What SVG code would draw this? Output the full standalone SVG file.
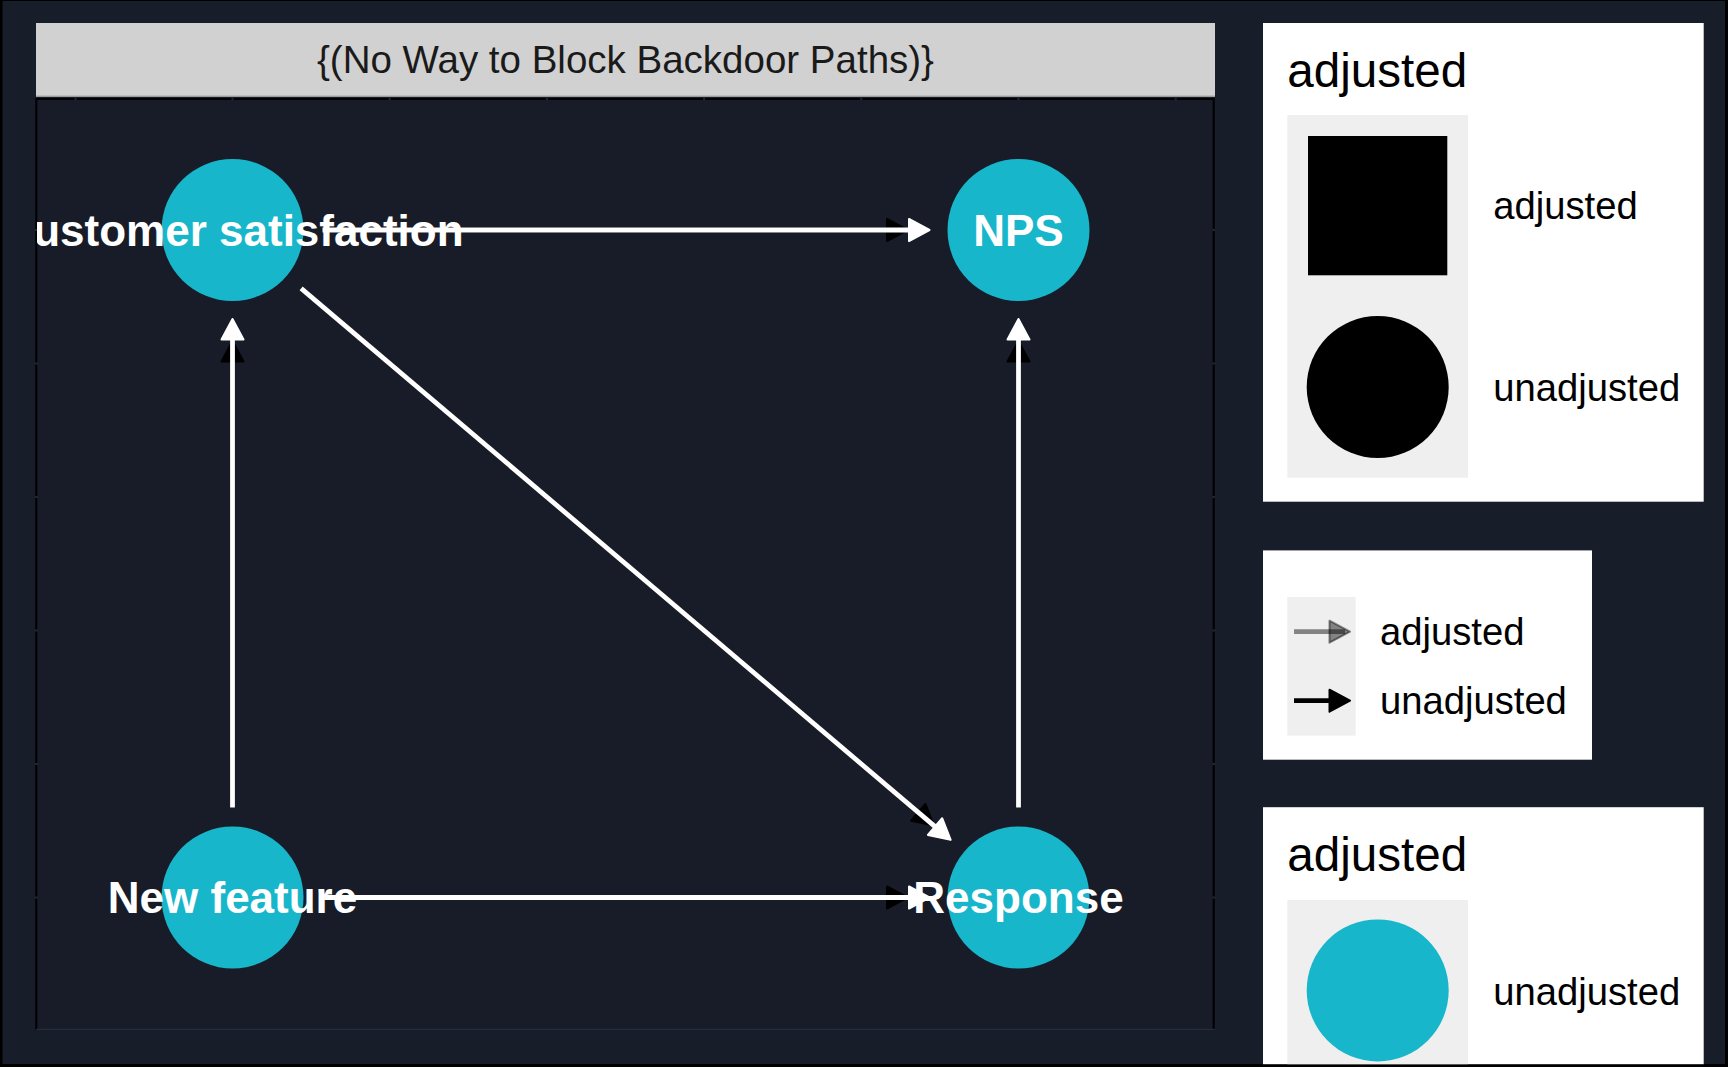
<svg xmlns="http://www.w3.org/2000/svg" width="1728" height="1067" viewBox="0 0 1728 1067">
  <style>
    .lbl { font-family: "Liberation Sans", Arial, sans-serif; font-weight: bold; font-size: 44px; fill: #ffffff; text-anchor: middle; }
    .node { fill: #17b6ca; }
    .edge-w { stroke: #ffffff; stroke-width: 4.8; fill: none; marker-end: url(#ah-w); }
    .edge-b { stroke: #000000; stroke-width: 4.8; fill: none; marker-end: url(#ah-b); }
    .strip { font-family: "Liberation Sans", Arial, sans-serif; font-size: 38.5px; fill: #1a1a1a; text-anchor: middle; }
    .ltitle { font-family: "Liberation Sans", Arial, sans-serif; font-size: 47.6px; fill: #000000; }
    .ltext { font-family: "Liberation Sans", Arial, sans-serif; font-size: 38.2px; fill: #000000; }
    .keybg { fill: #efefef; }
    .tick { fill: #1f2536; }
  </style>
  <defs>
    <marker id="ah-w" markerUnits="userSpaceOnUse" viewBox="0 0 30 30" markerWidth="30" markerHeight="30" refX="19.5" refY="15" orient="auto" overflow="visible">
      <path d="M4,4 L24.5,15 L4,26 Z" fill="#ffffff" stroke="#ffffff" stroke-width="2" stroke-linejoin="round"/>
    </marker>
    <marker id="ah-b" markerUnits="userSpaceOnUse" viewBox="0 0 30 30" markerWidth="30" markerHeight="30" refX="19.5" refY="15" orient="auto" overflow="visible">
      <path d="M4,4 L24.5,15 L4,26 Z" fill="#000000" stroke="#000000" stroke-width="2" stroke-linejoin="round"/>
    </marker>
    <marker id="ah-g" markerUnits="userSpaceOnUse" viewBox="0 0 30 30" markerWidth="30" markerHeight="30" refX="19.5" refY="15" orient="auto" overflow="visible">
      <path d="M4,4 L24.5,15 L4,26 Z" fill="#000000" fill-opacity="0.45" stroke="#000000" stroke-opacity="0.45" stroke-width="2" stroke-linejoin="round"/>
    </marker>
    <clipPath id="panel-clip">
      <rect x="37" y="99" width="1177" height="930"/>
    </clipPath>
  </defs>

  <!-- background -->
  <rect x="0" y="0" width="1728" height="1067" fill="#000000"/>
  <rect x="2.5" y="1" width="1722.5" height="1063" fill="#181d2a"/>

  <!-- panel -->
  <g id="panel">
    <rect x="36" y="97" width="1179" height="932" fill="#171c28"/>
    <rect x="36" y="23" width="1179" height="73.5" fill="#d1d1d1"/>
    <line x1="36" y1="96.2" x2="1215" y2="96.2" stroke="#a9a9a9" stroke-width="1.2"/>
    <text class="strip" x="625.5" y="73.3">{(No Way to Block Backdoor Paths)}</text>
    <line x1="36.3" y1="98" x2="36.3" y2="1030" stroke="#000000" stroke-width="2"/>
    <line x1="36" y1="99" x2="1215" y2="99" stroke="#000000" stroke-width="2"/>
    <line x1="1213.7" y1="98" x2="1213.7" y2="1030" stroke="#000000" stroke-width="2"/>
    <line x1="36" y1="1029.3" x2="1215" y2="1029.3" stroke="#2b3142" stroke-width="1"/>
    <g id="grid-ticks">
      <rect class="tick" x="74.5" y="97.5" width="2" height="3"/>
      <rect class="tick" x="231.5" y="97.5" width="2" height="3"/>
      <rect class="tick" x="388.7" y="97.5" width="2" height="3"/>
      <rect class="tick" x="545.9" y="97.5" width="2" height="3"/>
      <rect class="tick" x="703.1" y="97.5" width="2" height="3"/>
      <rect class="tick" x="860.3" y="97.5" width="2" height="3"/>
      <rect class="tick" x="1017.5" y="97.5" width="2" height="3"/>
      <rect class="tick" x="1174.7" y="97.5" width="2" height="3"/>
      <rect class="tick" x="35" y="229" width="3" height="2"/>
      <rect class="tick" x="35" y="362.5" width="3" height="2"/>
      <rect class="tick" x="35" y="496" width="3" height="2"/>
      <rect class="tick" x="35" y="629.5" width="3" height="2"/>
      <rect class="tick" x="35" y="763" width="3" height="2"/>
      <rect class="tick" x="35" y="896.5" width="3" height="2"/>
      <rect class="tick" x="1212.2" y="229" width="3" height="2"/>
      <rect class="tick" x="1212.2" y="362.5" width="3" height="2"/>
      <rect class="tick" x="1212.2" y="496" width="3" height="2"/>
      <rect class="tick" x="1212.2" y="629.5" width="3" height="2"/>
      <rect class="tick" x="1212.2" y="763" width="3" height="2"/>
      <rect class="tick" x="1212.2" y="896.5" width="3" height="2"/>
    </g>
  </g>

  <!-- connectors -->
  <g id="connectors">
    <line class="edge-b" x1="322.5" y1="230" x2="902.5" y2="230"/>
    <line class="edge-b" x1="232.5" y1="807.5" x2="232.5" y2="346"/>
    <line class="edge-b" x1="1018.5" y1="807.5" x2="1018.5" y2="346"/>
    <line class="edge-b" x1="322.5" y1="897.5" x2="902.5" y2="897.5"/>
    <line class="edge-b" x1="301.1" y1="288.3" x2="930.08" y2="822.4"/>

    <line class="edge-w" x1="322.5" y1="230" x2="924.5" y2="230"/>
    <line class="edge-w" x1="232.5" y1="807.5" x2="232.5" y2="324"/>
    <line class="edge-w" x1="1018.5" y1="807.5" x2="1018.5" y2="324"/>
    <line class="edge-w" x1="322.5" y1="897.5" x2="924.5" y2="897.5"/>
    <line class="edge-w" x1="301.1" y1="288.3" x2="946.85" y2="836.65"/>
  </g>

  <!-- nodes -->
  <g id="node-customer-satisfaction">
    <circle class="node" cx="232.5" cy="230" r="71"/>
    <text class="lbl" x="232.5" y="246" clip-path="url(#panel-clip)">Customer satisfaction</text>
  </g>
  <g id="node-nps">
    <circle class="node" cx="1018.5" cy="230" r="71"/>
    <text class="lbl" x="1018.5" y="246">NPS</text>
  </g>
  <g id="node-new-feature">
    <circle class="node" cx="232.5" cy="897.5" r="71"/>
    <text class="lbl" x="232.5" y="913.3">New feature</text>
  </g>
  <g id="node-response">
    <circle class="node" cx="1018.5" cy="897.5" r="71"/>
    <text class="lbl" x="1018.5" y="913.3">Response</text>
  </g>

  <!-- legend: shape -->
  <g id="legend-shape">
    <rect x="1263" y="23" width="440.7" height="478.7" fill="#ffffff"/>
    <text class="ltitle" x="1287.3" y="87.3">adjusted</text>
    <rect class="keybg" x="1287.3" y="115" width="180.7" height="362.7"/>
    <rect x="1308" y="136" width="139.3" height="139.3" fill="#000000"/>
    <circle cx="1377.7" cy="387" r="71" fill="#000000"/>
    <text class="ltext" x="1493.3" y="219">adjusted</text>
    <text class="ltext" x="1493.3" y="401">unadjusted</text>
  </g>

  <!-- legend: edge type -->
  <g id="legend-edge">
    <rect x="1263" y="550.4" width="329" height="209.3" fill="#ffffff"/>
    <rect class="keybg" x="1287.3" y="597" width="68.4" height="138.6"/>
    <line x1="1294" y1="631.7" x2="1345" y2="631.7" stroke="#000000" stroke-opacity="0.45" stroke-width="4.8" marker-end="url(#ah-g)"/>
    <line x1="1294" y1="700.7" x2="1345" y2="700.7" stroke="#000000" stroke-width="4.8" marker-end="url(#ah-b)"/>
    <text class="ltext" x="1380" y="645">adjusted</text>
    <text class="ltext" x="1380" y="714.3">unadjusted</text>
  </g>

  <!-- legend: colour -->
  <g id="legend-colour">
    <rect x="1263" y="807.2" width="440.7" height="257" fill="#ffffff"/>
    <text class="ltitle" x="1287.3" y="870.7">adjusted</text>
    <rect class="keybg" x="1287.3" y="900" width="180.7" height="164.2"/>
    <circle cx="1377.7" cy="990.4" r="71" fill="#17b6ca"/>
    <text class="ltext" x="1493.3" y="1005">unadjusted</text>
  </g>
</svg>
